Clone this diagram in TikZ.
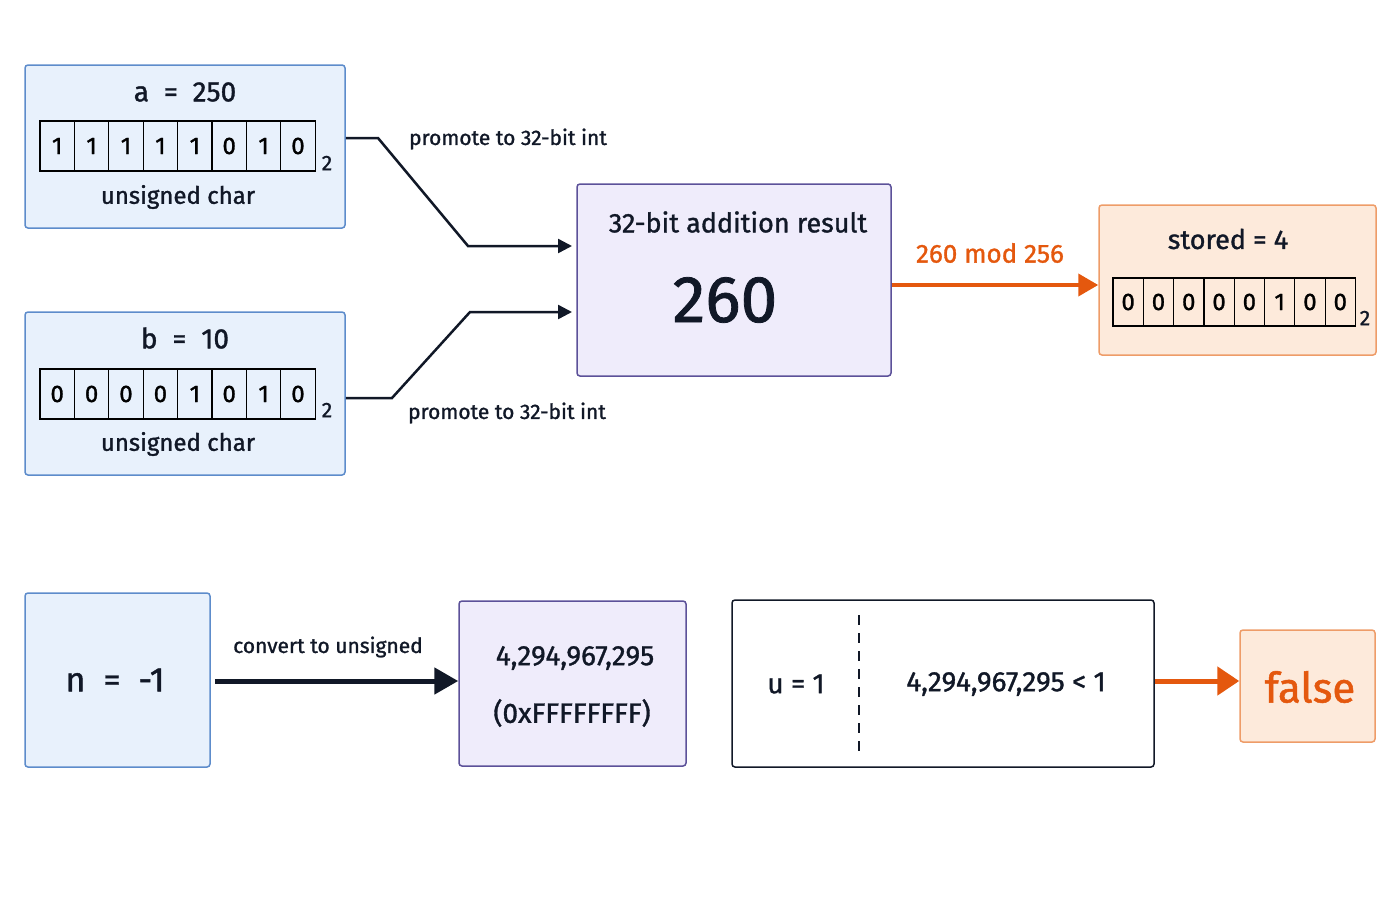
\documentclass[tikz,border=0pt]{standalone}
\usepackage{fontspec}
\setmainfont{Fira Sans}[BoldFont=Fira Sans,BoldFeatures={FakeBold=1.2}]
\usetikzlibrary{arrows.meta}
\definecolor{blueFill}{HTML}{E8F1FC}
\definecolor{blueLine}{HTML}{5D8CCB}
\definecolor{lavFill}{HTML}{EFECFB}
\definecolor{lavLine}{HTML}{5C5199}
\definecolor{orFill}{HTML}{FDEADB}
\definecolor{orLine}{HTML}{EE9C68}
\definecolor{orText}{HTML}{E4580E}
\definecolor{inkDark}{HTML}{111827}
\tikzset{
  box/.style={draw,rounded corners=3pt,line width=1.5pt},
  bluebox/.style={box,fill=blueFill,draw=blueLine},
  lavbox/.style={box,fill=lavFill,draw=lavLine},
  orbox/.style={box,fill=orFill,draw=orLine},
  bitcell/.style={draw,line width=1.2pt,minimum width=#1,minimum height=50pt,inner sep=0pt,font=\bfseries\fontsize{24}{26}\selectfont},
  lbl/.style={font=\bfseries\fontsize{24}{28}\selectfont,text=inkDark},
  small/.style={font=\bfseries\fontsize{21}{24}\selectfont,text=inkDark},
  link/.style={draw=inkDark,line width=2.5pt,-{Triangle[length=14pt,width=14pt]}}
}
\begin{document}
\begin{tikzpicture}[x=1pt,y=-1pt]
  \useasboundingbox (0,0) rectangle (1400,900);
  % input a
  \node (BoxA) [bluebox,minimum width=320pt,minimum height=163pt] at (185,146.5) {};
  \node (LabA) [lbl,font=\bfseries\fontsize{28}{32}\selectfont] at (185,92) {a\ \ =\ \ 250};
  \foreach \v [count=\i] in {1,1,1,1,1,0,1,0}
    \node (A\i) [bitcell=34.4pt] at (40+34.4*\i-17.2,146) {\v};
  \node (SubA) [small] at (327,163) {2};
  \node (TypeA) [lbl] at (178,197) {unsigned char};
  % input b
  \node (BoxB) [bluebox,minimum width=320pt,minimum height=163pt] at (185,393.5) {};
  \node (LabB) [lbl,font=\bfseries\fontsize{28}{32}\selectfont] at (185,338) {b\ \ =\ \ 10};
  \foreach \v [count=\i] in {0,0,0,0,1,0,1,0}
    \node (B\i) [bitcell=34.4pt] at (40+34.4*\i-17.2,394) {\v};
  \node (SubB) [small] at (327,410) {2};
  \node (TypeB) [lbl] at (178,444) {unsigned char};
  % sum
  \node (Sum) [lavbox,minimum width=314pt,minimum height=192pt] at (734,280) {};
  \node (SumLab) [lbl,font=\bfseries\fontsize{27}{30}\selectfont] at (738,222) {32-bit addition result};
  \node (SumVal) [lbl,font=\bfseries\fontsize{66}{70}\selectfont] at (725,300) {260};
  \coordinate (InA) at (572,246);
  \coordinate (InB) at (572,312);
  \draw [link] (BoxA.east |- 0,138) -- (378,138) -- (468,246) -- (InA);
  \draw [link] (BoxB.east |- 0,398) -- (392,398) -- (470,312) -- (InB);
  \node (PromA) [small] at (508,139) {promote to 32-bit int};
  \node (PromB) [small] at (507,413) {promote to 32-bit int};
  % stored
  \node (Store) [orbox,minimum width=277pt,minimum height=150pt] at (1237.5,280) {};
  \node (StoreLab) [lbl,font=\bfseries\fontsize{27}{30}\selectfont] at (1228,239) {stored = 4};
  \foreach \v [count=\i] in {0,0,0,0,0,1,0,0}
    \node (S\i) [bitcell=30.3pt,minimum height=48pt] at (1113+30.3*\i-15.15,302) {\v};
  \node (SubS) [small] at (1365,318) {2};
  \draw [link,draw=orText,-{Triangle[length=20pt,width=22pt]},line width=4pt] (Sum.east) ++(0,5) -- (Store.west |- 0,285);
  \node (Mod) [lbl,text=orText,font=\bfseries\fontsize{26}{30}\selectfont] at (990,253) {260 mod 256};
  % conversion row
  \node (NBox) [bluebox,minimum width=185pt,minimum height=174pt] at (117.5,680) {};
  \node (NLab) [lbl,font=\bfseries\fontsize{34}{38}\selectfont] at (115,680) {n\ \ =\ \ -1};
  \node (UBox) [lavbox,minimum width=227pt,minimum height=165pt] at (572.5,683.5) {};
  \node (UVal) [lbl,font=\bfseries\fontsize{28}{32}\selectfont] at (575,658) {4,294,967,295};
  \node (UHex) [lbl,font=\bfseries\fontsize{28}{32}\selectfont] at (572,713) {(0xFFFFFFFF)};
  \draw [link,line width=5pt,-{Triangle[length=24pt,width=26pt]}] (NBox.east) ++(4,1) -- (UBox.west |- 0,681);
  \node (Conv) [small] at (328,647) {convert to unsigned};
  \node (CmpBox) [box,fill=white,draw=inkDark,minimum width=422pt,minimum height=167pt] at (943,683.5) {};
  \node (ULab) [lbl,font=\bfseries\fontsize{28}{32}\selectfont] at (796,684) {u = 1};
  \draw [dash pattern=on 10pt off 8pt,line width=1.5pt,draw=inkDark] (859,615) -- (859,755);
  \node (CmpLab) [lbl,font=\bfseries\fontsize{28}{32}\selectfont] at (1006,684) {4,294,967,295 < 1};
  \node (False) [orbox,minimum width=135pt,minimum height=112pt] at (1307.5,686) {};
  \node (FalseLab) [lbl,text=orText,font=\bfseries\fontsize{42}{46}\selectfont] at (1310,687) {false};
  \draw [link,draw=orText,line width=5pt,-{Triangle[length=22pt,width=28pt]}] (CmpBox.east |- 0,681) -- (False.west |- 0,681);
\end{tikzpicture}
\end{document}
